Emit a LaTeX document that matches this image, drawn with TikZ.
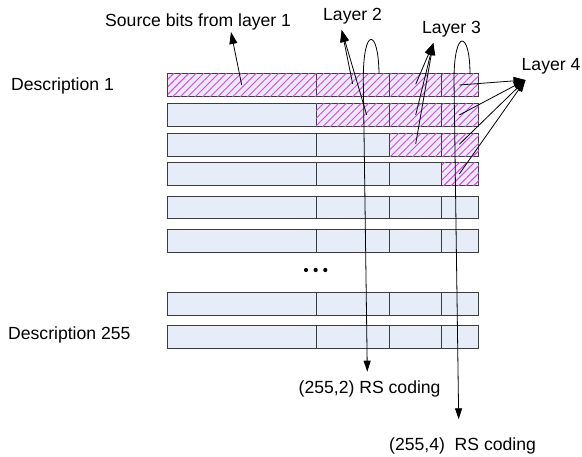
\documentclass[tikz,border=0pt]{standalone}
\usepackage{fontspec}
\setmainfont{Liberation Sans}
\usetikzlibrary{arrows.meta,patterns.meta}

\definecolor{cellfill}{RGB}{230,236,248}
\definecolor{cellline}{RGB}{60,60,60}
\definecolor{hatchcol}{RGB}{235,60,235}

\tikzset{
  lbl/.style={font=\fontsize{17.6}{20}\selectfont, inner sep=0pt, anchor=base west},
  cellbox/.style={draw=cellline, line width=1pt, fill=cellfill, rectangle, inner sep=0pt},
  hatched/.style={postaction={pattern={Lines[angle=45,distance=5.3pt,line width=0.9pt]}, pattern color=hatchcol}},
  pointer/.style={draw=black, line width=0.8pt, -{Triangle[length=12pt,width=8pt]}},
  coder/.style={draw=black, line width=0.8pt, -{Triangle[length=11pt,width=7pt]}},
}

\begin{document}
\begin{tikzpicture}[x=1pt,y=-1pt]
\useasboundingbox (0,0) rectangle (582,457);

% column edges and row tops of the description table
\def\colA{167.3}\def\colB{315.7}\def\colC{389.3}\def\colD{441}\def\colE{478.3}
\def\rowh{22.6}

% rows: index / top / number of hatched layers (counted from the right-hand column)
\foreach \r/\t/\h in {1/73.5/4, 2/103.3/3, 3/133.2/2, 4/162.3/1, 5/195.7/0, 6/229/0, 7/292.3/0, 8/325/0}{
  \foreach \k/\xa/\xb in {1/\colA/\colB, 2/\colB/\colC, 3/\colC/\colD, 4/\colD/\colE}{
    \pgfmathtruncatemacro{\ishatched}{(\k > 4-\h) ? 1 : 0}
    \ifnum\ishatched=1
      \node[cellbox, hatched, minimum width={\xb-\xa}, minimum height=\rowh, anchor=north west]
        (c\r\k) at (\xa,\t) {};
    \else
      \node[cellbox, minimum width={\xb-\xa}, minimum height=\rowh, anchor=north west]
        (c\r\k) at (\xa,\t) {};
    \fi
  }
}

% ellipsis between the visible rows
\foreach \i/\x in {1/306,2/315.7,3/325.3}{
  \fill (\x,270) circle (2.1) coordinate (dot\i);
}

% labels
\node[lbl] (src) at (105,27) {Source bits from layer 1};
\node[lbl] (l2) at (323,21) {Layer 2};
\node[lbl] (l3) at (422,34) {Layer 3};
\node[lbl] (l4) at (521.5,70.7) {Layer 4};
\node[lbl] (d1) at (11,90.7) {Description 1};
\node[lbl] (d255) at (8,339.3) {Description 255};
\node[lbl] (rs2) at (298.5,394) {(255,2) RS coding};
\node[lbl] (rs4) at (389,450.7) {(255,4)\ \ RS coding};

% arrow tips next to the labels
\coordinate (srcTip) at (231,32);
\coordinate (l2Tip) at (341.7,30);
\coordinate (l3Tip) at (433.3,43);
\coordinate (l4Tip) at (525.5,80);

% pointer origins inside the cells
\coordinate (p1) at (241.7,85);
\coordinate (p21) at (352.7,84);
\coordinate (p22) at (366.7,115);
\coordinate (p31) at (415.7,84.3);
\coordinate (p32) at (415.7,115);
\coordinate (p33) at (415.7,144);
\coordinate (p41) at (459.3,85);
\coordinate (p42) at (459.3,115);
\coordinate (p43) at (459.3,144.3);
\coordinate (p44) at (459.3,174);

\draw[pointer] (p1) -- (srcTip);
\draw[pointer] (p21) -- (l2Tip);
\draw[pointer] (p22) -- (l2Tip);
\foreach \p in {p31,p32,p33}{ \draw[pointer] (\p) -- (l3Tip); }
\foreach \p in {p41,p42,p43,p44}{ \draw[pointer] (\p) -- (l4Tip); }

% Reed-Solomon coding across all descriptions
\coordinate (rs2Start) at (379,73.5);
\coordinate (rs2Tip) at (367.3,371.7);
\coordinate (rs4Start) at (470,74.3);
\coordinate (rs4Tip) at (458.7,419.3);

\draw[coder] (rs2Start) .. controls (378.5,28) and (363,26) .. (363.3,80) -- (rs2Tip);
\draw[coder] (rs4Start) .. controls (470,30) and (454,28) .. (454,80) -- (rs4Tip);
\end{tikzpicture}
\end{document}
